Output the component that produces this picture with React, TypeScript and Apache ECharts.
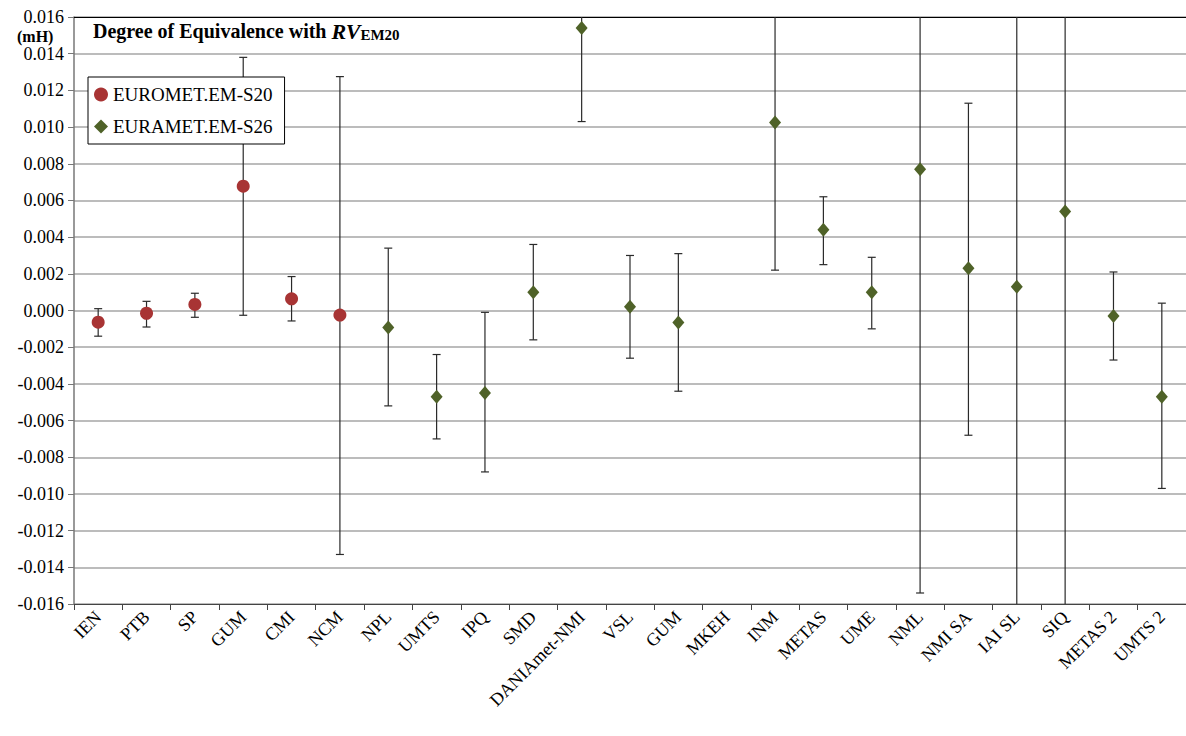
import React, { useEffect, useRef } from "react";
import * as echarts from "echarts";

const categories = [
  "IEN", "PTB", "SP", "GUM", "CMI", "NCM", "NPL", "UMTS", "IPQ", "SMD",
  "DANIAmet-NMI", "VSL", "GUM", "MKEH", "INM", "METAS", "UME", "NML",
  "NMI SA", "IAI SL", "SIQ", "METAS 2", "UMTS 2",
];

// EUROMET.EM-S20
const s20Index = [0, 1, 2, 3, 4, 5];
const s20Value = [-0.00064, -0.00015, 0.00033, 0.00678, 0.00064, -0.00025];
const s20Low = [-0.0014, -0.0009, -0.00037, -0.00026, -0.00057, -0.0133];
const s20High = [0.0001, 0.0005, 0.00094, 0.0138, 0.00185, 0.01275];

// EURAMET.EM-S26 (MKEH has no value)
const s26Index = [6, 7, 8, 9, 10, 11, 12, 14, 15, 16, 17, 18, 19, 20, 21, 22];
const s26Value = [-0.00093, -0.0047, -0.0045, 0.001, 0.0154, 0.0002, -0.00065, 0.01025, 0.0044, 0.001, 0.0077, 0.0023, 0.0013, 0.0054, -0.0003, -0.0047];
const s26Low = [-0.0052, -0.007, -0.0088, -0.0016, 0.0103, -0.0026, -0.0044, 0.0022, 0.0025, -0.001, -0.0154, -0.0068, -0.0225, -0.0186, -0.0027, -0.0097];
const s26High = [0.0034, -0.0024, -0.0001, 0.0036, 0.0205, 0.003, 0.0031, 0.0184, 0.0062, 0.0029, 0.0308, 0.0113, 0.0251, 0.0294, 0.0021, 0.0004];

const Y_MIN = -0.016;
const Y_MAX = 0.016;
const Y_STEP = 0.002;

const SERIF = "Liberation Serif";
const RED = "#A83434";
const GREEN = "#4F6228";
const BAR = "#2a2a2a";

function buildErrorData(idx: number[], lo: number[], hi: number[]) {
  return idx.map((x, i) => [x, lo[i], hi[i]]);
}

function renderErrorBar(params: any, api: any) {
  const x = api.value(0);
  const lo = api.value(1);
  const hi = api.value(2);
  const clo = Math.max(lo, Y_MIN);
  const chi = Math.min(hi, Y_MAX);
  const p1 = api.coord([x, clo]);
  const p2 = api.coord([x, chi]);
  const cap = 4;
  const style = { stroke: BAR, lineWidth: 1.2 };
  const children: any[] = [
    { type: "line", shape: { x1: p1[0], y1: p1[1], x2: p2[0], y2: p2[1] }, style },
  ];
  if (lo >= Y_MIN) {
    children.push({ type: "line", shape: { x1: p1[0] - cap, y1: p1[1], x2: p1[0] + cap, y2: p1[1] }, style });
  }
  if (hi <= Y_MAX) {
    children.push({ type: "line", shape: { x1: p2[0] - cap, y1: p2[1], x2: p2[0] + cap, y2: p2[1] }, style });
  }
  return { type: "group", children };
}

export default function App() {
  const ref = useRef<HTMLDivElement>(null);

  useEffect(() => {
    if (!ref.current) return;
    const chart = echarts.init(ref.current, undefined, { renderer: "svg" });
    chart.setOption({
      animation: false,
      backgroundColor: "#ffffff",
      textStyle: { fontFamily: SERIF },
      grid: { left: 74, right: 0, top: 17, bottom: 132, containLabel: false },
      legend: {
        data: ["EUROMET.EM-S20", "EURAMET.EM-S26"],
        orient: "vertical",
        left: 88,
        top: 77,
        padding: [8, 12, 8, 6],
        itemGap: 13,
        itemWidth: 14,
        itemHeight: 14,
        backgroundColor: "#ffffff",
        borderColor: "#000000",
        borderWidth: 1,
        borderRadius: 0,
        textStyle: { fontFamily: SERIF, fontSize: 19, color: "#000" },
        z: 10,
      },
      xAxis: [
        {
          type: "category",
          data: categories,
          boundaryGap: true,
          axisLine: { show: true, onZero: false, lineStyle: { color: "#444", width: 1.2 } },
          axisTick: { show: true, interval: 0, length: 6, lineStyle: { color: "#444" } },
          axisLabel: {
            interval: 0,
            rotate: 45,
            margin: 10,
            fontFamily: SERIF,
            fontSize: 18,
            color: "#000",
          },
          splitLine: { show: false },
        },
        {
          type: "category",
          data: categories,
          position: "top",
          axisLine: { show: true, onZero: false, lineStyle: { color: "#000", width: 1.2 } },
          axisTick: { show: false },
          axisLabel: { show: false },
          splitLine: { show: false },
        },
      ],
      yAxis: {
        type: "value",
        min: Y_MIN,
        max: Y_MAX,
        interval: Y_STEP,
        axisLine: { show: true, onZero: false, lineStyle: { color: "#777", width: 1.5 } },
        axisTick: { show: true, length: 6, lineStyle: { color: "#777" } },
        axisLabel: {
          margin: 10,
          fontFamily: SERIF,
          fontSize: 18,
          color: "#000",
          formatter: (v: number) => (Math.abs(v) < 1e-9 ? "0.000" : v.toFixed(3)),
        },
        splitLine: { show: true, lineStyle: { color: "#a6a6a6", width: 1.5 } },
      },
      graphic: [
        {
          type: "text",
          x: 17,
          y: 28,
          style: {
            text: "(mH)",
            fontFamily: SERIF,
            fontWeight: "bold",
            fontSize: 16,
            fill: "#000",
          },
          z: 20,
        },
        {
          type: "text",
          x: 93,
          y: 20,
          style: {
            text: "{a|Degree of Equivalence with }{b|RV}{c|EM20}",
            rich: {
              a: { fontFamily: SERIF, fontWeight: "bold", fontSize: 20, fill: "#000", padding: [0, 0, 8, 0] },
              b: { fontFamily: SERIF, fontWeight: "bold", fontStyle: "italic", fontSize: 22, fill: "#000", padding: [0, 0, 8, 0] },
              c: { fontFamily: SERIF, fontWeight: "bold", fontSize: 15, fill: "#000" },
            },
          },
          z: 20,
        },
      ],
      series: [
        {
          name: "EUROMET.EM-S20 bars",
          type: "custom",
          renderItem: renderErrorBar,
          data: buildErrorData(s20Index, s20Low, s20High),
          encode: { x: 0, y: [1, 2] },
          z: 2,
          silent: true,
        },
        {
          name: "EURAMET.EM-S26 bars",
          type: "custom",
          renderItem: renderErrorBar,
          data: buildErrorData(s26Index, s26Low, s26High),
          encode: { x: 0, y: [1, 2] },
          z: 2,
          silent: true,
        },
        {
          name: "EUROMET.EM-S20",
          type: "scatter",
          symbol: "circle",
          symbolSize: 13,
          itemStyle: { color: RED, opacity: 1 },
          data: s20Index.map((x, i) => [x, s20Value[i]]),
          z: 5,
        },
        {
          name: "EURAMET.EM-S26",
          type: "scatter",
          symbol: "diamond",
          symbolSize: [12, 14],
          itemStyle: { color: GREEN, opacity: 1 },
          data: s26Index.map((x, i) => [x, s26Value[i]]),
          z: 5,
        },
      ],
    });
    return () => chart.dispose();
  }, []);

  return (
    <div
      ref={ref}
      style={{ position: "fixed", left: 0, top: 0, width: 1186, height: 736, background: "#fff" }}
    />
  );
}
